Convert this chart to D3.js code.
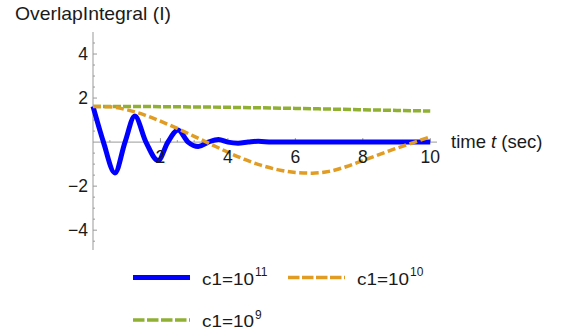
<!DOCTYPE html>
<html>
<head>
<meta charset="utf-8">
<script src="https://cdn.jsdelivr.net/npm/d3@7"></script>
<style>
  body { margin: 0; background: #fff; }
  text { font-family: "Liberation Sans", Arial, sans-serif; fill: #1a1a1a; }
</style>
</head>
<body>
<div id="chart"></div>
<script>
// time samples and curves
const blueT = [0, 0.31, 0.65, 0.95, 1.24, 1.57, 1.93, 2.22, 2.52, 2.82, 3.12, 3.42, 3.72, 4.0, 4.3, 4.6, 4.9, 5.3, 6, 7, 8, 9, 10];
const blueV = [1.62, 0, -1.40, 0, 1.18, 0, -0.84, 0, 0.55, 0, -0.20, 0, 0.12, 0, -0.05, 0, 0.04, 0, 0.01, 0.01, 0.01, 0.01, 0.01];

const orangeT = [0, 0.5, 1, 1.5, 2, 2.5, 3, 3.5, 4, 4.5, 5, 5.5, 6, 6.5, 7, 7.5, 8, 8.5, 9, 9.5, 10];
const orangeV = [1.62, 1.60, 1.47, 1.25, 0.95, 0.62, 0.26, -0.10, -0.46, -0.79, -1.06, -1.26, -1.38, -1.41, -1.33, -1.12, -0.84, -0.56, -0.28, -0.02, 0.24];

const greenT = [0, 2, 4, 6, 8, 10];
const greenV = [1.62, 1.61, 1.58, 1.53, 1.47, 1.41];

const xTicks = [2, 4, 6, 8, 10];
const yTicks = [-4, -2, 2, 4];

const seriesNames = ["c1=10", "c1=10", "c1=10"];
const seriesExp = ["11", "10", "9"];

const width = 569, height = 332;

const svg = d3.select("#chart")
    .append("svg")
    .attr("width", width)
    .attr("height", height);

// scales
const x = d3.scaleLinear().domain([0, 10.2]).range([93, 437]);
const y = d3.scaleLinear().domain([-4.9, 5]).range([250, 32]);

const axisColor = "#999";

// y axis
svg.append("line")
    .attr("x1", x(0)).attr("x2", x(0))
    .attr("y1", y(5)).attr("y2", y(-4.9))
    .attr("stroke", axisColor);

// x axis
svg.append("line")
    .attr("x1", x(0)).attr("x2", x(10.2))
    .attr("y1", y(0)).attr("y2", y(0))
    .attr("stroke", axisColor);

// minor + major ticks
d3.range(-4.5, 5, 0.5).forEach(v => {
    if (Math.abs(v) < 1e-9) return;
    const major = yTicks.includes(v);
    svg.append("line")
        .attr("x1", x(0)).attr("x2", x(0) + (major ? 4 : 2))
        .attr("y1", y(v)).attr("y2", y(v))
        .attr("stroke", axisColor);
});
d3.range(0.5, 10.1, 0.5).forEach(v => {
    const major = xTicks.includes(v);
    svg.append("line")
        .attr("x1", x(v)).attr("x2", x(v))
        .attr("y1", y(0)).attr("y2", y(0) - (major ? 4 : 2))
        .attr("stroke", axisColor);
});

// curves
const line = d3.line()
    .x(d => x(d[0]))
    .y(d => y(d[1]))
    .curve(d3.curveMonotoneX);

const greenData = greenT.map((t, i) => [t, greenV[i]]);
const orangeData = orangeT.map((t, i) => [t, orangeV[i]]);
const blueData = blueT.map((t, i) => [t, blueV[i]]);

svg.append("path")
    .datum(greenData)
    .attr("fill", "none")
    .attr("stroke", "#8FB032")
    .attr("stroke-width", 3.5)
    .attr("stroke-dasharray", "8,2")
    .attr("d", line);

svg.append("path")
    .datum(blueData)
    .attr("fill", "none")
    .attr("stroke", "#0000FF")
    .attr("stroke-width", 5)
    .attr("stroke-linejoin", "round")
    .attr("d", line);

svg.append("path")
    .datum(orangeData)
    .attr("fill", "none")
    .attr("stroke", "#E19C24")
    .attr("stroke-width", 3.5)
    .attr("stroke-dasharray", "8,3.5")
    .attr("d", line);

// tick labels
svg.selectAll(".xlab")
    .data(xTicks)
    .enter()
    .append("text")
    .attr("x", d => x(d))
    .attr("y", 163)
    .attr("text-anchor", "middle")
    .style("font-size", "17.5px")
    .text(d => d);

svg.selectAll(".ylab")
    .data(yTicks)
    .enter()
    .append("text")
    .attr("x", 88)
    .attr("y", d => y(d) + 6)
    .attr("text-anchor", "end")
    .style("font-size", "17.5px")
    .text(d => d < 0 ? "\u2212" + Math.abs(d) : d);

// axis labels
svg.append("text")
    .attr("x", 15)
    .attr("y", 20)
    .attr("textLength", 156)
    .attr("lengthAdjust", "spacingAndGlyphs")
    .style("font-size", "19px")
    .text("OverlapIntegral (I)");

const xl = svg.append("text")
    .attr("x", 451)
    .attr("y", 148)
    .style("font-size", "18.5px");
xl.append("tspan").text("time ");
xl.append("tspan").style("font-style", "italic").text("t");
xl.append("tspan").text(" (sec)");

// legend
const legendItems = [
    {lx: 133, ly: 277.5, color: "#0000FF", w: 5, dash: null},
    {lx: 288, ly: 277.5, color: "#E19C24", w: 3.5, dash: "11.5,2.5"},
    {lx: 133, ly: 320, color: "#8FB032", w: 3.5, dash: "11.5,2.5"}
];

legendItems.forEach((it, i) => {
    const l = svg.append("line")
        .attr("x1", it.lx).attr("x2", it.lx + 57)
        .attr("y1", it.ly).attr("y2", it.ly)
        .attr("stroke", it.color)
        .attr("stroke-width", it.w);
    if (it.dash) l.attr("stroke-dasharray", it.dash);

    svg.append("text")
        .attr("x", it.lx + 69)
        .attr("y", it.ly + 7)
        .attr("textLength", 52)
        .attr("lengthAdjust", "spacingAndGlyphs")
        .style("font-size", "17px")
        .text(seriesNames[i]);
    svg.append("text")
        .attr("x", it.lx + 69 + 53)
        .attr("y", it.ly - 1.5)
        .style("font-size", "12px")
        .text(seriesExp[i]);
});
</script>
</body>
</html>
